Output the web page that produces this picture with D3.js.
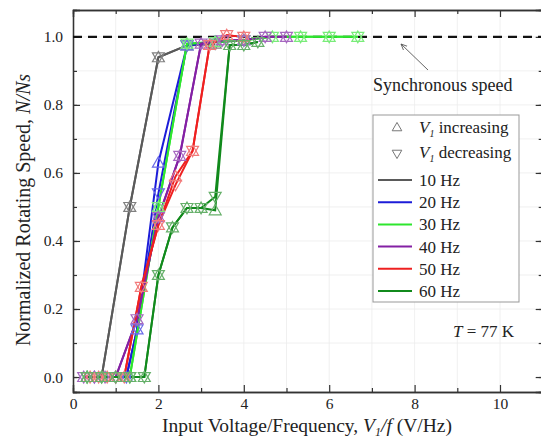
<!DOCTYPE html>
<html>
<head>
<meta charset="utf-8">
<script src="https://cdn.jsdelivr.net/npm/d3@7"></script>
<style>
  body { margin: 0; background: #fff; }
  svg { display: block; font-family: "Liberation Serif", "DejaVu Serif", serif; }
</style>
</head>
<body>
<script>
// values: [V1/f, N/Ns]
const freqs = ["10 Hz", "20 Hz", "30 Hz", "40 Hz", "50 Hz", "60 Hz"];
const lineColors = ["#5a5a5a", "#1c1cd8", "#2ee62e", "#8420a4", "#ee2020", "#118a1c"];
const markColors = ["#808080", "#6a6ae8", "#7aec7a", "#a668c0", "#f27a7a", "#66b06a"];

const inc10 = [[0.33, 0], [0.67, 0], [1.33, 0.50], [2.0, 0.94], [2.67, 0.975], [3.33, 0.98]];
const dec10 = [[0.33, 0], [0.67, 0], [1.33, 0.50], [2.0, 0.94], [2.67, 0.975], [3.33, 0.98]];
const inc20 = [[0.5, 0], [1.0, 0], [1.25, 0], [1.5, 0.14], [2.0, 0.63], [2.67, 0.975], [3.33, 0.985], [4.0, 0.99]];
const dec20 = [[0.5, 0], [1.0, 0], [1.25, 0], [1.5, 0.14], [2.0, 0.54], [2.67, 0.975], [3.33, 0.985], [4.0, 0.99]];
const inc30 = [[0.33, 0], [0.67, 0], [1.0, 0], [1.33, 0], [2.0, 0.50], [2.67, 0.98], [3.33, 0.985], [4.0, 0.99], [4.67, 1.0], [5.33, 1.0], [6.0, 1.0], [6.67, 1.0]];
const dec30 = [[0.33, 0], [0.67, 0], [1.0, 0], [1.33, 0], [2.0, 0.50], [2.67, 0.98], [3.33, 0.985], [4.0, 0.99], [4.67, 1.0], [5.33, 1.0], [6.0, 1.0], [6.67, 1.0]];
const inc40 = [[0.25, 0], [0.5, 0], [0.75, 0], [1.0, 0], [1.5, 0.17], [2.0, 0.47], [2.5, 0.65], [3.0, 0.98], [3.5, 0.99], [4.0, 0.99], [4.5, 1.0], [5.0, 1.0]];
const dec40 = [[0.25, 0], [0.5, 0], [0.75, 0], [1.0, 0], [1.5, 0.17], [2.0, 0.47], [2.5, 0.65], [3.0, 0.98], [3.5, 0.99], [4.0, 0.99], [4.5, 1.0], [5.0, 1.0]];
const inc50 = [[0.4, 0], [0.6, 0], [0.8, 0], [1.0, 0], [1.2, 0], [1.6, 0.265], [2.0, 0.447], [2.4, 0.59], [2.8, 0.665], [3.2, 0.976], [3.6, 1.005], [4.0, 1.0]];
const dec50 = [[0.4, 0], [0.6, 0], [0.8, 0], [1.0, 0], [1.2, 0], [1.6, 0.265], [2.0, 0.447], [2.4, 0.565], [2.8, 0.665], [3.2, 0.976], [3.6, 1.005], [4.0, 1.0]];
const inc60 = [[0.33, 0], [0.67, 0], [1.0, 0], [1.33, 0], [1.67, 0], [2.0, 0.30], [2.33, 0.44], [2.67, 0.497], [3.0, 0.497], [3.33, 0.49], [3.67, 0.976], [4.0, 0.976], [4.33, 0.985]];
const dec60 = [[0.33, 0], [0.67, 0], [1.0, 0], [1.33, 0], [1.67, 0], [2.0, 0.30], [2.33, 0.44], [2.67, 0.497], [3.0, 0.497], [3.33, 0.53], [3.67, 0.976], [4.0, 0.976], [4.33, 0.985]];

const incData = [inc10, inc20, inc30, inc40, inc50, inc60];
const decData = [dec10, dec20, dec30, dec40, dec50, dec60];

const xTicks = [0, 2, 4, 6, 8, 10];
const yTicks = [0, 0.2, 0.4, 0.6, 0.8, 1.0];
const syncSpeed = 1.0;

const W = 541, H = 439;
const svg = d3.select("body").append("svg")
    .attr("width", W)
    .attr("height", H);

const x = d3.scaleLinear().domain([0, 11]).range([73, 542.7]);
const y = d3.scaleLinear().domain([-0.044, 1.079]).range([392, 10]);
const pLeft = x(0), pRight = x(11), pTop = y(1.079), pBottom = y(-0.044);

// faint grid
const grid = svg.append("g").attr("stroke", "#ececec").attr("stroke-width", 0.8);
grid.selectAll("line.gx")
    .data(d3.range(1, 11))
    .enter().append("line")
    .attr("x1", d => x(d)).attr("x2", d => x(d))
    .attr("y1", pTop).attr("y2", pBottom);
grid.selectAll("line.gy")
    .data(d3.range(1, 11).map(d => d / 10))
    .enter().append("line")
    .attr("x1", pLeft).attr("x2", pRight)
    .attr("y1", d => y(d)).attr("y2", d => y(d));

// axes, ticks inward on every side
const minorX = d3.range(1, 11, 2);
const minorY = d3.range(0, 11).map(d => d / 10);

svg.append("g")
    .attr("transform", `translate(0,${pBottom})`)
    .call(d3.axisBottom(x).tickValues(xTicks).tickSize(-7).tickPadding(6).tickFormat(d3.format("d")));
svg.append("g")
    .attr("transform", `translate(0,${pBottom})`)
    .call(d3.axisBottom(x).tickValues(minorX).tickSize(-4).tickFormat(""));
svg.append("g")
    .attr("transform", `translate(0,${pTop})`)
    .call(d3.axisTop(x).tickValues(xTicks).tickSize(-7).tickFormat(""));
svg.append("g")
    .attr("transform", `translate(0,${pTop})`)
    .call(d3.axisTop(x).tickValues(minorX).tickSize(-4).tickFormat(""));
svg.append("g")
    .attr("transform", `translate(${pLeft},0)`)
    .call(d3.axisLeft(y).tickValues(yTicks).tickSize(-7).tickPadding(10).tickFormat(d3.format(".1f")));
svg.append("g")
    .attr("transform", `translate(${pLeft},0)`)
    .call(d3.axisLeft(y).tickValues(minorY).tickSize(-4).tickFormat(""));
svg.append("g")
    .attr("transform", `translate(${pRight},0)`)
    .call(d3.axisRight(y).tickValues(yTicks).tickSize(-7).tickFormat(""));
svg.append("g")
    .attr("transform", `translate(${pRight},0)`)
    .call(d3.axisRight(y).tickValues(minorY).tickSize(-4).tickFormat(""));

svg.selectAll(".domain").attr("stroke", "#333").attr("stroke-width", 1.3);
svg.selectAll(".tick line").attr("stroke", "#333").attr("stroke-width", 1.2);
svg.selectAll(".tick text")
    .attr("font-family", "Liberation Serif")
    .attr("font-size", 15.5)
    .attr("fill", "#222");

// synchronous speed dashed line
svg.append("line")
    .attr("x1", pLeft).attr("x2", pRight)
    .attr("y1", y(syncSpeed)).attr("y2", y(syncSpeed))
    .attr("stroke", "#111")
    .attr("stroke-width", 2.2)
    .attr("stroke-dasharray", "9,6");

// series lines
const line = d3.line().x(d => x(d[0])).y(d => y(d[1]));
const triUp = d3.symbol().type(d3.symbolTriangle).size(62);

freqs.forEach(function(f, i) {
    [incData[i], decData[i]].forEach(function(pts) {
        svg.append("path")
            .attr("d", line(pts))
            .attr("fill", "none")
            .attr("stroke", lineColors[i])
            .attr("stroke-width", 2);
    });
});

freqs.forEach(function(f, i) {
    svg.append("g").selectAll("path")
        .data(incData[i])
        .enter().append("path")
        .attr("d", triUp)
        .attr("transform", d => `translate(${x(d[0])},${y(d[1]) + 1})`)
        .attr("fill", "none")
        .attr("stroke", markColors[i])
        .attr("stroke-width", 1.2);
    svg.append("g").selectAll("path")
        .data(decData[i])
        .enter().append("path")
        .attr("d", triUp)
        .attr("transform", d => `translate(${x(d[0])},${y(d[1]) - 1}) rotate(180)`)
        .attr("fill", "none")
        .attr("stroke", markColors[i])
        .attr("stroke-width", 1.2);
});

// annotation
svg.append("defs").append("marker")
    .attr("id", "arr")
    .attr("viewBox", "0 0 10 10")
    .attr("refX", 9).attr("refY", 5)
    .attr("markerWidth", 7).attr("markerHeight", 7)
    .attr("orient", "auto")
    .append("path")
    .attr("d", "M0,1 L9,5 L0,9")
    .attr("fill", "none")
    .attr("stroke", "#555")
    .attr("stroke-width", 1.2);

svg.append("line")
    .attr("x1", 428).attr("y1", 70)
    .attr("x2", 401).attr("y2", 44)
    .attr("stroke", "#666")
    .attr("stroke-width", 1)
    .attr("marker-end", "url(#arr)");

svg.append("text")
    .attr("x", 373).attr("y", 91)
    .attr("font-size", 18)
    .attr("fill", "#222")
    .text("Synchronous speed");

const tt = svg.append("text")
    .attr("x", 453).attr("y", 337)
    .attr("font-size", 17)
    .attr("fill", "#222");
tt.append("tspan").attr("font-style", "italic").text("T");
tt.append("tspan").text(" = 77 K");

// legend
const lg = svg.append("g");
lg.append("rect")
    .attr("x", 373).attr("y", 115)
    .attr("width", 146).attr("height", 187)
    .attr("fill", "#fff")
    .attr("stroke", "#999")
    .attr("stroke-width", 1);

lg.append("path")
    .attr("d", d3.symbol().type(d3.symbolTriangle).size(40))
    .attr("transform", "translate(397,128)")
    .attr("fill", "none").attr("stroke", "#777").attr("stroke-width", 1);
lg.append("path")
    .attr("d", d3.symbol().type(d3.symbolTriangle).size(40))
    .attr("transform", "translate(397,153) rotate(180)")
    .attr("fill", "none").attr("stroke", "#777").attr("stroke-width", 1);

["increasing", "decreasing"].forEach(function(w, i) {
    const t = lg.append("text")
        .attr("x", 419).attr("y", 133 + i * 25)
        .attr("font-size", 17)
        .attr("fill", "#222");
    t.append("tspan").attr("font-style", "italic").text("V");
    t.append("tspan").attr("font-style", "italic").attr("font-size", 10).attr("dy", 4).text("1");
    t.append("tspan").attr("dy", -4).text(" " + w);
});

freqs.forEach(function(f, i) {
    const yy = 180 + i * 22.2;
    lg.append("line")
        .attr("x1", 378).attr("x2", 412)
        .attr("y1", yy).attr("y2", yy)
        .attr("stroke", lineColors[i])
        .attr("stroke-width", 2);
    lg.append("text")
        .attr("x", 419).attr("y", yy + 6)
        .attr("font-size", 17)
        .attr("fill", "#222")
        .text(f);
});

// axis titles
const xt = svg.append("text")
    .attr("x", 307).attr("y", 432)
    .attr("text-anchor", "middle")
    .attr("font-size", 19.5)
    .attr("fill", "#222");
xt.append("tspan").text("Input Voltage/Frequency, ");
xt.append("tspan").attr("font-style", "italic").text("V");
xt.append("tspan").attr("font-style", "italic").attr("font-size", 12).attr("dy", 4).text("1");
xt.append("tspan").attr("font-style", "italic").attr("dy", -4).text("/f");
xt.append("tspan").text(" (V/Hz)");

const yt = svg.append("text")
    .attr("transform", "translate(30,210) rotate(-90)")
    .attr("text-anchor", "middle")
    .attr("font-size", 20)
    .attr("fill", "#222");
yt.append("tspan").text("Normalized Rotating Speed, ");
yt.append("tspan").attr("font-style", "italic").text("N/Ns");
</script>
</body>
</html>
